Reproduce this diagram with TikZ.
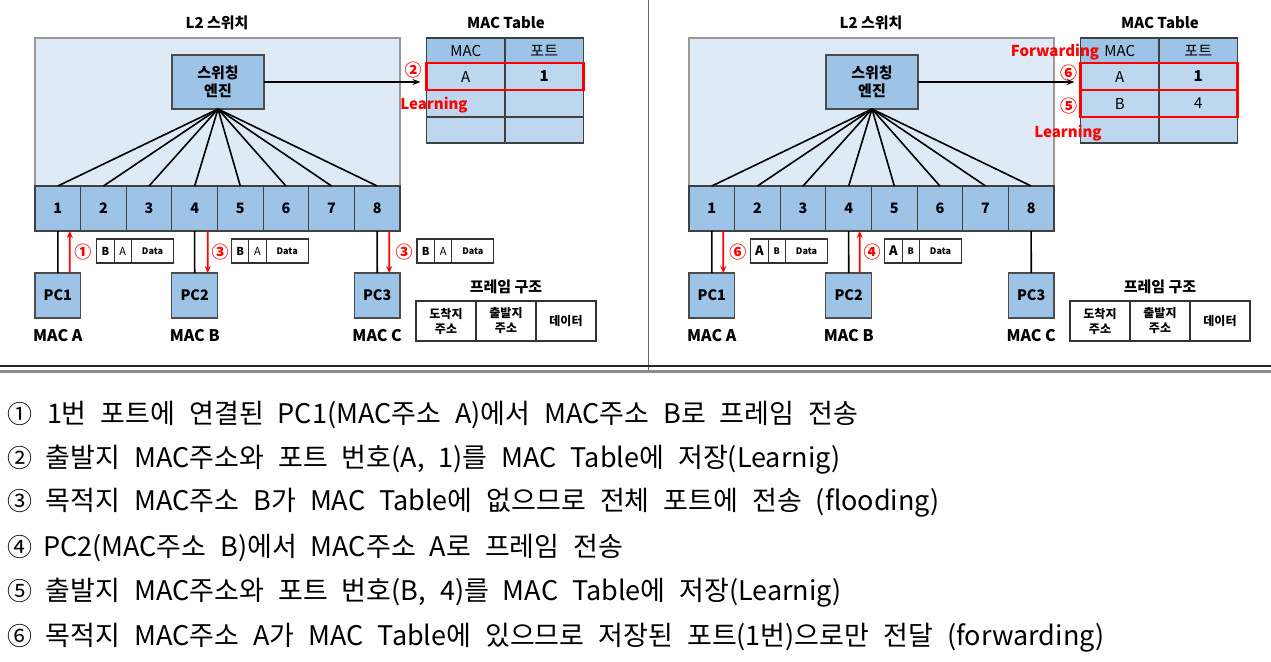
\documentclass[tikz,border=0pt]{standalone}
\usepackage{fontspec}
\setmainfont{Noto Sans CJK KR}
\usetikzlibrary{arrows.meta}
\definecolor{swlight}{HTML}{DEEBF7}
\definecolor{swmid}{HTML}{9DC3E6}
\definecolor{tblue}{HTML}{BDD7EE}
\definecolor{myred}{HTML}{FF0000}
\tikzset{
 every node/.style={inner sep=0pt, outer sep=0pt},
 swbox/.style={draw=black!40, fill=swlight, line width=0.6pt},
 portbox/.style={draw=black!75, fill=swmid, line width=0.6pt, minimum width=22.8125pt, minimum height=22.5pt, font=\bfseries\fontsize{7.2}{8}\selectfont},
 engbox/.style={draw=black!70, fill=swmid, line width=0.6pt, minimum width=46pt, minimum height=27pt, align=center, font=\bfseries\fontsize{7.5}{9}\selectfont},
 pcbox/.style={draw=black!70, fill=swmid, line width=0.6pt, minimum width=22.8125pt, minimum height=22.5pt, font=\bfseries\fontsize{7.2}{8}\selectfont},
 maclbl/.style={font=\bfseries\fontsize{8}{9}\selectfont},
 ttl/.style={font=\bfseries\fontsize{7.5}{8}\selectfont},
 hcell/.style={draw=black!75, fill=swmid, line width=0.6pt, minimum width=39.25pt, minimum height=12.5pt, font=\fontsize{7.5}{8}\selectfont},
 tcell/.style={draw=black!75, fill=tblue, line width=0.6pt, minimum width=39.25pt, minimum height=13.5pt, font=\fontsize{7.5}{8}\selectfont},
 link/.style={line width=0.8pt},
 redarrow/.style={draw=myred, line width=0.9pt, -{Stealth[length=3.5pt,width=3pt]}},
 redbox/.style={draw=myred, line width=1.1pt},
 rednum/.style={text=myred, font=\bfseries\fontsize{8.5}{9}\selectfont},
 redlbl/.style={text=myred, font=\bfseries\fontsize{7.5}{8}\selectfont},
 pk/.style={draw=black!80, fill=white, line width=0.6pt, minimum height=12pt, anchor=west},
 pkn/.style={pk, minimum width=8.7pt},
 pkd/.style={pk, minimum width=21pt, font=\bfseries\fontsize{4.5}{5}\selectfont},
 fcell/.style={draw=black!80, line width=0.6pt, minimum width=30pt, minimum height=20pt, align=center, font=\bfseries\fontsize{6}{7.5}\selectfont},
 ftitle/.style={font=\bfseries\fontsize{7.5}{8}\selectfont},
 btext/.style={anchor=west, text height=11.5pt, text depth=1.5pt, font=\fontsize{13.5}{16}\selectfont, execute at begin node={\spaceskip=7pt\relax}},
 bnum/.style={text height=11.5pt, text depth=1.5pt, font=\fontsize{12.5}{15}\selectfont},
}
\newcommand\mypanel[4]{%
\begin{scope}[xshift=#2]
\node[ttl] (#1-title) at (217,23) {L2 스위치};
\node[ttl] (#1-mtitle) at (506,23) {MAC Table};
\node[swbox, minimum width=182.5pt, minimum height=74pt, anchor=north west] (#1-sw) at (35,38) {};
\foreach \i in {1,...,8} {\node[portbox] (#1-p\i) at ({35+45.625*(\i-0.5)},208.5) {\i};}
\node[engbox] (#1-eng) at (218,82) {스위칭\\엔진};
\foreach \i in {1,...,8} {\draw[link] (#1-eng.south) -- (#1-p\i.north);}
\node[hcell] (#1-hm) at (465.75,50.5) {MAC};
\node[hcell] (#1-hp) at (544.25,50.5) {포트};
\node[tcell] (#1-m1) at (465.75,76.5) {A};
\node[tcell] (#1-q1) at (544.25,76.5) {\bfseries 1};
\node[tcell] (#1-m2) at (465.75,103.5) {#3};
\node[tcell] (#1-q2) at (544.25,103.5) {#4};
\node[tcell, minimum height=13pt] (#1-m3) at (465.75,130) {};
\node[tcell, minimum height=13pt] (#1-q3) at (544.25,130) {};
\draw[link, -{Stealth[length=4pt,width=3pt]}] (#1-eng.east) -- ([xshift=-3pt]#1-eng.east -| #1-m1.west);
\node[pcbox] (#1-pc1) at (57.8,295.5) {PC1};
\node[pcbox] (#1-pc4) at (194.7,295.5) {PC2};
\node[pcbox] (#1-pc8) at (377.2,295.5) {PC3};
\draw[link] (#1-p1.south) -- (#1-pc1.north);
\draw[link] (#1-p4.south) -- (#1-pc4.north);
\draw[link] (#1-p8.south) -- (#1-pc8.north);
\node[maclbl] (#1-ma) at (57.8,336) {MAC A};
\node[maclbl] (#1-mb) at (194.7,336) {MAC B};
\node[maclbl] (#1-mc) at (377.2,336) {MAC C};
\node[ftitle] (#1-ft) at (506,287) {프레임 구조};
\node[fcell] (#1-fs1) at (446,321) {도착지\\주소};
\node[fcell] (#1-fs2) at (506,321) {출발지\\주소};
\node[fcell] (#1-fs3) at (566,321) {데이터};
\end{scope}}
\begin{document}
\begin{tikzpicture}[x=0.5pt,y=-0.5pt]
\useasboundingbox (0,0) rectangle (1271,661);
\fill[white] (0,0) rectangle (1271,661);
\mypanel{L}{0pt}{}{}
\mypanel{R}{327pt}{B}{4}
% left panel specifics
\draw[redbox] (L-m1.north west) rectangle (L-q1.south east);
\node[rednum] (L-n2) at (413,70) {②};
\node[redlbl] (L-learn) at (434,105) {Learning};
\draw[redarrow] ([xshift=6pt]L-pc1.north) -- ([xshift=6pt]L-p1.south);
\node[rednum] (L-n1) at (83,252) {①};
\node[pkn, font=\bfseries\fontsize{5.5}{6}\selectfont] (L-a1) at (96.7,251) {B};
\node[pkn, font=\fontsize{5.5}{6}\selectfont] (L-a2) at (L-a1.east) {A};
\node[pkd] (L-a3) at (L-a2.east) {Data};
\draw[redarrow] ([xshift=6.5pt]L-p4.south) -- ([xshift=6.5pt]L-pc4.north);
\node[rednum] (L-n3a) at (220,252) {③};
\node[pkn, font=\bfseries\fontsize{5.5}{6}\selectfont] (L-b1) at (231.4,251) {B};
\node[pkn, font=\fontsize{5.5}{6}\selectfont] (L-b2) at (L-b1.east) {A};
\node[pkd] (L-b3) at (L-b2.east) {Data};
\draw[redarrow] ([xshift=6pt]L-p8.south) -- ([xshift=6pt]L-pc8.north);
\node[rednum] (L-n3b) at (404,252) {③};
\node[pkn, font=\bfseries\fontsize{5.5}{6}\selectfont] (L-c1) at (417,251) {B};
\node[pkn, font=\fontsize{5.5}{6}\selectfont] (L-c2) at (L-c1.east) {A};
\node[pkd] (L-c3) at (L-c2.east) {Data};
% right panel specifics
\draw[redbox] (R-m1.north west) rectangle (R-q1.south east);
\draw[redbox] (R-m2.north west) rectangle (R-q2.south east);
\node[redlbl] (R-fwd) at (1055,52) {Forwarding};
\node[rednum] (R-n6t) at (1068.6,73) {⑥};
\node[rednum] (R-n5t) at (1068.6,106) {⑤};
\node[redlbl] (R-learn) at (1068,133) {Learning};
\draw[redarrow] ([xshift=5.75pt]R-p1.south) -- ([xshift=5.75pt]R-pc1.north);
\node[rednum] (R-n6) at (737.8,252) {⑥};
\node[pkn, font=\bfseries\fontsize{6.5}{7}\selectfont] (R-a1) at (750.7,251) {A};
\node[pkn, font=\bfseries\fontsize{4.5}{5}\selectfont] (R-a2) at (R-a1.east) {B};
\node[pkd] (R-a3) at (R-a2.east) {Data};
\draw[redarrow] ([xshift=5.5pt]R-pc4.north) -- ([xshift=5.5pt]R-p4.south);
\node[rednum] (R-n4) at (872,252) {④};
\node[pkn, font=\bfseries\fontsize{6.5}{7}\selectfont] (R-b1) at (884.7,251) {A};
\node[pkn, font=\bfseries\fontsize{4.5}{5}\selectfont] (R-b2) at (R-b1.east) {B};
\node[pkd] (R-b3) at (R-b2.east) {Data};
% separators
\draw[black!60, line width=0.7pt] (648.5,0) -- (648.5,373);
\draw[black!85, line width=0.6pt] (0,366) -- (1271,366);
\draw[black!45, line width=1.3pt] (0,371.5) -- (1271,371.5);
% bottom text
\node[bnum] (t1n) at (20,413) {①};
\node[btext] (t1) at (47,413) {1번 포트에 연결된 PC1(MAC주소 A)에서 MAC주소 B로 프레임 전송};
\node[bnum] (t2n) at (20,457) {②};
\node[btext] (t2) at (46,457) {출발지 MAC주소와 포트 번호(A, 1)를 MAC Table에 저장(Learnig)};
\node[bnum] (t3n) at (20,500) {③};
\node[btext] (t3) at (46,500) {목적지 MAC주소 B가 MAC Table에 없으므로 전체 포트에 전송 (flooding)};
\node[bnum] (t4n) at (20,546) {④};
\node[btext] (t4) at (43,546) {PC2(MAC주소 B)에서 MAC주소 A로 프레임 전송};
\node[bnum] (t5n) at (20,590) {⑤};
\node[btext] (t5) at (46,590) {출발지 MAC주소와 포트 번호(B, 4)를 MAC Table에 저장(Learnig)};
\node[bnum] (t6n) at (20,635) {⑥};
\node[btext] (t6) at (46,635) {목적지 MAC주소 A가 MAC Table에 있으므로 저장된 포트(1번)으로만 전달 (forwarding)};
\end{tikzpicture}
\end{document}
